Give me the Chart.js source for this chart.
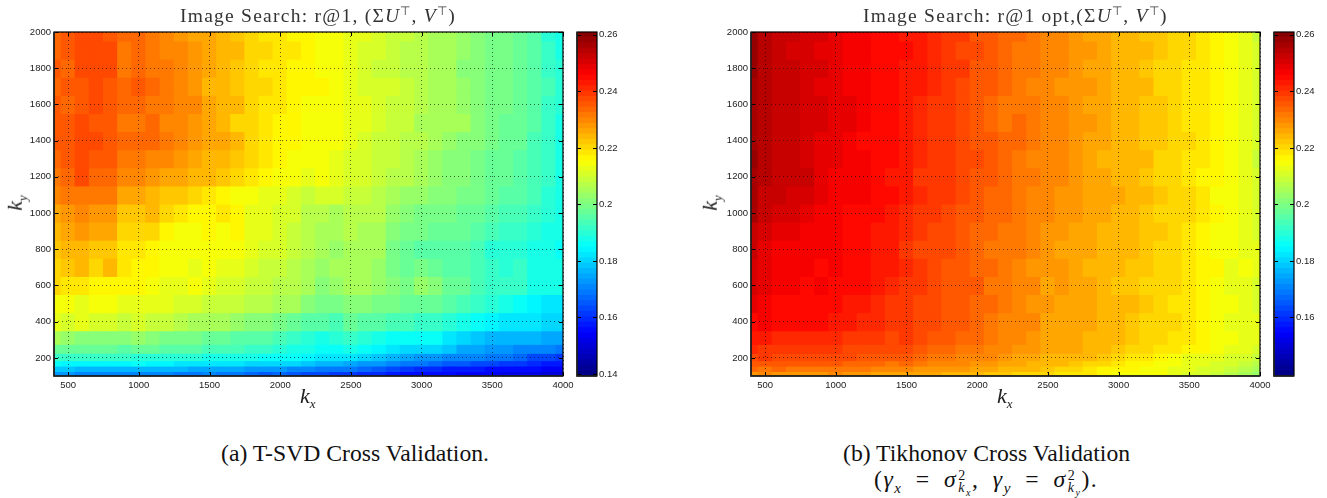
<!DOCTYPE html>
<html lang="en">
<head>
<meta charset="UTF-8">
<title>Image Search cross validation</title>
<style>
    body { margin: 0; background: #fff; width: 1327px; height: 498px; overflow: hidden; position: relative; font-family: "Liberation Serif", serif; color: #111; }
    canvas { position: absolute; top: 0; }
    .title { position: absolute; top: 5px; font-size: 19.5px; letter-spacing: 1.25px; color: #333; white-space: nowrap; }
    .title sup { font-size: 12px; line-height: 0; }
    .axlabel { position: absolute; font-size: 22px; font-style: italic; color: #222; white-space: nowrap; }
    .axlabel sub { font-size: 13px; line-height: 0; }
    .rot { transform: rotate(-90deg); transform-origin: center; }
    .caption { position: absolute; font-size: 23.7px; white-space: nowrap; color: #111; }
    .caption sub { line-height: 0; font-size: 15px; }
    .mathline { word-spacing: 6px; letter-spacing: 1.5px; }
    .ss { display: inline-block; vertical-align: -5px; font-size: 14px; line-height: 12px; text-align: left; margin-left: 1px; }
    .ss span { display: block; }
    .ss sub { font-size: 10px; font-style: italic; line-height: 0; }
</style>
</head>
<body>
<canvas id="heatA" width="590" height="400" style="left:0"></canvas>
<canvas id="barA" width="60" height="400" style="left:570px"></canvas>
<canvas id="heatB" width="590" height="400" style="left:697px"></canvas>
<canvas id="barB" width="60" height="400" style="left:1267px"></canvas>

<div class="title" style="left:180px">Image Search: r@1, (Σ<i>U</i><sup>⊤</sup>, <i>V</i><sup>⊤</sup>)</div>
<div class="title" style="left:863px">Image Search: r@1 opt,(Σ<i>U</i><sup>⊤</sup>, <i>V</i><sup>⊤</sup>)</div>
<div class="axlabel" style="left:300px;top:383px">k<sub>x</sub></div>
<div class="axlabel" style="left:997px;top:383px">k<sub>x</sub></div>
<div class="axlabel rot" style="left:7px;top:190px">k<sub>y</sub></div>
<div class="axlabel rot" style="left:702px;top:190px">k<sub>y</sub></div>
<div class="caption" style="left:221px;top:440px">(a) T-SVD Cross Validation.</div>
<div class="caption" style="left:843px;top:440px">(b) Tikhonov Cross Validation</div>
<div class="caption mathline" style="left:874px;top:466px">(<i>γ<sub>x</sub></i> = <i>σ</i><span class="ss"><span>2</span><span><i>k<sub>x</sub></i></span></span>, <i>γ<sub>y</sub></i> = <i>σ</i><span class="ss"><span>2</span><span><i>k<sub>y</sub></i></span></span>).</div>

<script src="https://cdn.jsdelivr.net/npm/chart.js"></script>
<script>
// columns: kx 400..4000, rows: ky; cell values in thousandths
const kxValues = [400,500,600,700,800,900,1000,1100,1200,1300,1400,1500,1600,1700,1800,1900,2000,2100,2200,2300,2400,2500,2600,2700,2800,2900,3000,3100,3200,3300,3400,3500,3600,3700,3800,3900,4000];
const kyValues = [2000,1900,1800,1700,1600,1500,1400,1300,1200,1100,1000,900,800,700,600,500,400,300,250,200,170,140,110];
const xTicks = [500,1000,1500,2000,2500,3000,3500,4000];
const yTicks = [200,400,600,800,1000,1200,1400,1600,1800,2000];
const colorTicksA = [0.14,0.16,0.18,0.2,0.22,0.24,0.26];
const colorTicksB = [0.16,0.18,0.2,0.22,0.24,0.26];

const tsvdValues = [
[233,235,237,238,236,233,234,231,230,228,226,225,224,222,220,219,218,217,216,215,215,213,212,211,209,208,207,205,204,203,202,200,199,197,195,190,187],
[234,235,238,238,237,232,234,232,230,229,227,226,224,223,221,220,218,218,216,215,214,212,211,210,209,207,206,205,204,203,201,200,199,198,195,191,188],
[235,234,238,238,237,232,233,232,231,229,228,225,224,222,221,219,218,217,216,215,215,212,211,209,209,207,206,205,204,202,201,200,199,197,195,192,189],
[234,236,236,238,236,233,235,234,232,229,228,224,224,222,221,220,218,217,216,216,215,213,211,210,210,208,207,205,204,203,201,200,199,198,196,193,189],
[235,234,236,238,236,234,233,232,231,230,229,226,224,223,221,219,218,216,215,215,214,213,212,211,209,208,207,205,204,203,202,200,199,198,195,192,189],
[236,235,237,236,235,231,232,233,230,229,227,225,223,221,220,218,217,216,215,215,215,212,213,211,208,208,205,205,204,204,202,199,198,197,195,191,188],
[235,236,238,237,236,233,234,234,232,230,228,225,225,223,221,219,217,216,215,214,214,212,211,209,208,207,206,204,203,202,201,199,197,197,194,191,188],
[233,235,237,236,235,232,231,230,229,227,226,224,223,222,220,218,216,215,214,214,213,211,210,209,208,207,205,203,202,201,200,198,197,196,194,191,188],
[231,234,238,234,234,229,229,228,226,226,224,223,222,220,219,217,215,214,212,214,213,211,210,209,207,206,204,203,202,201,200,198,197,195,193,191,187],
[229,231,232,232,231,226,225,224,222,222,220,218,217,215,214,213,212,210,208,210,211,208,208,207,204,203,203,202,201,200,199,198,196,195,193,190,187],
[226,228,229,228,228,222,222,223,221,218,217,217,218,216,213,212,211,210,207,206,205,207,206,206,203,201,200,199,199,198,197,195,194,193,191,189,188],
[224,226,227,225,226,220,221,220,217,215,215,216,215,216,213,212,210,209,207,205,205,206,205,205,201,200,199,198,197,197,196,194,192,191,190,188,187],
[222,224,224,222,222,219,218,216,215,215,215,215,214,214,212,211,211,208,206,204,203,205,204,204,200,198,196,196,195,195,193,190,190,189,188,187,186],
[221,222,223,220,224,218,217,217,214,214,213,214,212,212,210,209,209,207,205,203,204,204,205,203,199,198,199,198,196,195,193,192,190,191,188,187,187],
[220,218,219,217,217,217,216,214,213,213,215,212,211,210,209,208,207,206,204,202,203,205,204,203,201,200,203,202,198,197,194,192,191,192,188,187,187],
[214,214,213,215,214,213,213,212,212,210,211,209,209,208,207,206,205,204,202,200,199,201,202,200,199,197,198,197,195,193,191,189,187,186,184,183,183],
[212,211,212,210,211,209,210,208,208,206,205,205,204,203,202,201,199,198,196,195,194,197,196,195,193,193,192,191,189,187,186,184,183,182,183,181,180],
[204,203,202,202,201,201,203,201,200,200,199,198,197,196,195,195,193,191,190,188,189,191,189,187,186,185,186,185,183,180,179,177,176,176,176,175,174],
[198,197,198,197,197,196,198,197,196,195,195,194,193,193,192,191,190,188,187,186,185,188,186,184,182,181,180,180,178,175,174,172,172,171,170,170,169],
[191,192,192,191,191,191,190,190,190,189,189,188,188,187,187,186,186,185,184,182,182,183,181,179,176,174,173,173,171,170,170,169,168,166,164,164,162],
[185,184,184,184,184,184,185,184,184,183,183,183,182,182,181,181,181,180,178,177,176,174,173,172,170,168,168,166,165,165,164,163,162,161,159,158,157],
[178,178,177,177,177,177,176,176,177,176,175,175,175,174,173,173,172,171,170,169,169,168,166,165,163,161,160,159,158,158,157,156,156,155,155,154,153],
[173,172,171,171,171,171,170,170,170,169,169,170,168,168,167,165,166,165,163,163,162,161,160,159,158,156,156,155,155,154,153,153,152,152,151,150,150]
];

const tikhonovValues = [
[258,255,252,252,250,250,248,247,246,245,244,243,242,241,240,239,236,235,234,233,231,230,229,228,226,225,224,223,222,222,221,220,219,216,215,213,209],
[259,254,252,251,250,249,249,246,246,245,244,244,242,241,240,238,237,235,234,232,232,230,229,227,227,226,224,223,223,222,221,220,218,216,215,213,210],
[258,255,253,252,250,250,248,247,246,245,244,243,243,241,239,239,236,235,233,232,231,229,229,227,226,225,224,224,222,221,221,219,218,217,215,213,210],
[257,254,253,252,251,249,249,247,246,245,244,243,242,241,240,238,236,235,234,232,230,230,228,227,228,226,223,224,223,221,220,219,218,216,215,212,210],
[257,254,253,253,251,250,249,248,246,245,244,243,241,240,239,238,236,234,232,232,231,230,229,228,226,226,224,224,222,222,220,219,218,216,215,213,210],
[257,255,253,252,251,250,249,248,246,245,244,242,241,240,239,237,236,234,232,233,231,229,229,228,227,226,224,224,222,222,220,219,218,217,214,212,210],
[257,254,252,253,250,249,249,247,245,245,244,243,241,240,240,237,236,235,234,233,231,230,229,228,226,225,224,223,222,222,220,220,218,216,215,213,210],
[258,254,253,252,250,249,248,246,246,245,244,243,241,239,239,238,237,235,233,232,230,230,229,227,226,224,223,224,223,221,220,219,218,216,215,212,209],
[256,255,252,252,252,248,247,247,246,245,243,243,240,240,239,237,235,235,234,232,231,229,229,227,226,226,223,223,222,221,220,219,217,216,215,213,210],
[257,253,252,251,251,249,247,246,246,245,244,242,241,240,239,237,235,234,233,232,230,229,228,227,226,226,225,224,223,222,221,220,218,215,214,212,210],
[256,252,251,250,248,247,246,245,245,244,243,241,240,239,238,236,235,233,233,231,230,229,228,228,226,225,224,223,222,221,221,220,218,216,215,213,211],
[253,250,249,248,247,246,246,244,244,243,242,241,240,238,237,235,234,233,231,231,230,228,227,226,226,224,224,223,222,222,220,219,217,215,214,213,211],
[252,249,247,247,246,246,246,244,244,243,242,240,238,238,237,236,234,232,232,231,229,227,226,226,225,224,223,223,222,221,220,219,216,215,214,213,212],
[251,248,247,246,246,245,247,245,244,242,243,241,239,238,236,236,234,233,232,230,228,227,227,226,224,224,223,222,222,221,221,219,217,216,213,214,212],
[250,248,246,246,245,246,245,244,244,243,241,240,239,237,236,236,235,232,231,229,229,226,227,225,225,223,222,222,221,221,220,219,216,214,213,212,211],
[248,247,245,245,244,244,245,243,242,241,240,240,238,237,235,236,234,233,231,229,228,227,226,226,225,224,223,223,222,221,219,219,217,215,214,212,211],
[245,246,245,245,245,244,243,242,241,241,240,240,238,237,235,235,234,232,230,229,229,226,226,225,225,223,223,222,221,220,220,219,216,215,213,212,212],
[243,243,241,241,241,241,241,240,240,239,238,239,237,236,235,234,233,231,230,229,228,226,226,225,224,224,223,222,221,220,219,218,217,215,214,213,212],
[241,240,240,239,239,239,239,238,238,237,237,237,235,234,233,232,231,229,229,227,227,225,225,225,224,223,222,221,221,219,218,216,216,214,213,212,210],
[238,239,238,238,238,238,238,237,236,235,235,235,233,232,232,230,230,229,227,226,226,224,224,223,223,222,220,219,218,217,215,213,213,212,211,210,209],
[236,235,235,235,235,235,235,234,233,233,232,233,231,230,229,229,228,227,226,225,224,224,223,222,221,220,219,217,216,215,214,213,212,211,210,208,207],
[233,232,233,232,232,232,232,231,231,230,230,229,228,228,227,227,226,225,224,223,223,222,221,220,219,217,217,216,215,214,213,212,211,210,209,207,205],
[228,229,228,228,228,228,229,227,227,226,226,226,225,225,224,224,224,222,222,221,221,221,219,218,218,216,215,215,215,214,212,211,210,209,207,205,203]
];

const colorMin = 0.1393, colorMax = 0.261, levels = 64;

function jet(v) {
    let t = (v - colorMin) / (colorMax - colorMin);
    t = (Math.min(levels - 1, Math.max(0, Math.floor(t * levels))) + 0.5) / levels;
    const c = x => Math.round(255 * Math.max(0, Math.min(1, x)));
    const r = c(Math.min(4 * t - 1.5, -4 * t + 4.5));
    const g = c(Math.min(4 * t - 0.5, -4 * t + 3.5));
    const b = c(Math.min(4 * t + 0.5, -4 * t + 2.5));
    return `rgb(${r},${g},${b})`;
}

// inner ticks and box, matlab style
const boxPlugin = {
    id: 'box',
    afterDraw(chart) {
        const ctx = chart.ctx, a = chart.chartArea;
        ctx.save();
        ctx.strokeStyle = '#000';
        ctx.lineWidth = 1;
        ctx.beginPath();
        chart.scales.y.ticks.forEach(t => {
            const p = Math.round(chart.scales.y.getPixelForValue(t.value)) + 0.5;
            ctx.moveTo(a.left, p); ctx.lineTo(a.left + 4, p);
            ctx.moveTo(a.right - 4, p); ctx.lineTo(a.right, p);
        });
        if (chart.scales.x.options.display) {
            chart.scales.x.ticks.forEach(t => {
                const p = Math.round(chart.scales.x.getPixelForValue(t.value)) + 0.5;
                ctx.moveTo(p, a.bottom - 4); ctx.lineTo(p, a.bottom);
                ctx.moveTo(p, a.top); ctx.lineTo(p, a.top + 4);
            });
        }
        ctx.stroke();
        ctx.lineWidth = 1.2;
        ctx.strokeRect(a.left, a.top, a.right - a.left, a.bottom - a.top);
        ctx.strokeStyle = '#222';
        ctx.lineWidth = 1.6;
        ctx.beginPath();
        ctx.moveTo(a.left, a.top); ctx.lineTo(a.left, a.bottom); ctx.lineTo(a.right, a.bottom);
        ctx.stroke();
        ctx.restore();
    }
};

const tickFont = { family: '"Liberation Sans", Arial, sans-serif', size: 9.5 };

function drawHeat(id, values) {
    const bands = kyValues.map((ky, i) => {
        const hi = i === 0 ? ky : (ky + kyValues[i - 1]) / 2;
        const lo = i === kyValues.length - 1 ? 100 : (ky + kyValues[i + 1]) / 2;
        return [lo, hi];
    });
    const datasets = values.map((row, r) => ({
        data: row.map((v, c) => ({ x: kxValues[c], y: bands[r] })),
        backgroundColor: row.map(v => jet(v / 1000)),
        borderWidth: 0,
        inflateAmount: 0.5,
        grouped: false,
        barPercentage: 1,
        categoryPercentage: 1
    }));
    const grid = { color: 'rgba(0,0,0,0.6)', lineWidth: 1, drawTicks: false, offset: false, z: 1 };
    new Chart(document.getElementById(id), {
        type: 'bar',
        data: { datasets },
        plugins: [boxPlugin],
        options: {
            responsive: false,
            animation: false,
            layout: { padding: { left: 0, right: 27, top: 32, bottom: 0 } },
            plugins: { legend: { display: false }, tooltip: { enabled: false } },
            scales: {
                x: {
                    type: 'linear', min: 400, max: 4000, offset: false,
                    afterBuildTicks: s => { s.ticks = xTicks.map(value => ({ value })); },
                    afterFit: s => { s.height = 24; },
                    grid,
                    border: { display: false, dash: [1, 3] },
                    ticks: { font: tickFont, color: '#222', padding: 4, maxRotation: 0, autoSkip: false, callback: v => String(v) }
                },
                y: {
                    type: 'linear', min: 100, max: 2000,
                    afterBuildTicks: s => { s.ticks = yTicks.map(value => ({ value })); },
                    afterFit: s => { s.width = 54; },
                    grid,
                    border: { display: false, dash: [1, 3] },
                    ticks: { font: tickFont, color: '#222', padding: 3, autoSkip: false, callback: v => String(v) }
                }
            }
        }
    });
}

function drawColorbar(id, colorTicks) {
    const step = (colorMax - colorMin) / levels;
    const datasets = [];
    for (let i = 0; i < levels; i++) {
        const lo = colorMin + i * step;
        datasets.push({
            data: [[lo, lo + step]],
            backgroundColor: jet(lo + step / 2),
            borderWidth: 0,
            inflateAmount: 0.5,
            grouped: false,
            barPercentage: 1,
            categoryPercentage: 1
        });
    }
    new Chart(document.getElementById(id), {
        type: 'bar',
        data: { labels: ['colour'], datasets },
        plugins: [boxPlugin],
        options: {
            responsive: false,
            animation: false,
            layout: { padding: { left: 7, right: 0, top: 32, bottom: 24 } },
            plugins: { legend: { display: false }, tooltip: { enabled: false } },
            scales: {
                x: { display: false, offset: true },
                y: {
                    position: 'right', min: colorMin, max: colorMax,
                    afterBuildTicks: s => { s.ticks = colorTicks.map(value => ({ value })); },
                    afterFit: s => { s.width = 33; },
                    grid: { display: false, drawTicks: false },
                    border: { display: false },
                    ticks: { font: tickFont, color: '#222', padding: 2, autoSkip: false, callback: v => String(v) }
                }
            }
        }
    });
}

drawHeat('heatA', tsvdValues);
drawColorbar('barA', colorTicksA);
drawHeat('heatB', tikhonovValues);
drawColorbar('barB', colorTicksB);
</script>
</body>
</html>
